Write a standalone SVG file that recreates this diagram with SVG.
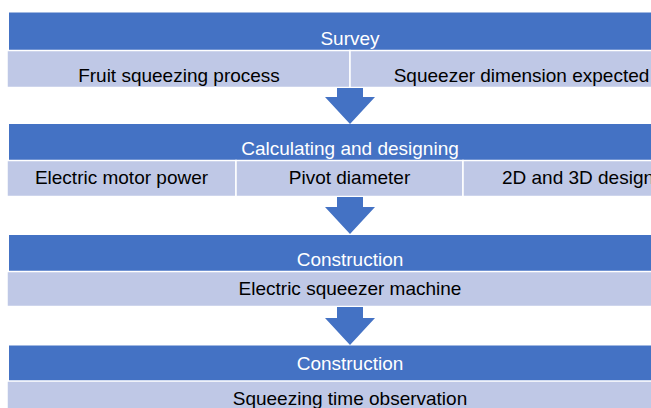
<svg xmlns="http://www.w3.org/2000/svg" width="651" height="408" viewBox="0 0 651 408">
<style>
.hdr{fill:#4472C4}
.cell{fill:#BFC8E6;stroke:#FFFFFF;stroke-width:1.5}
.ht{font-family:"Liberation Sans",Arial,sans-serif;font-size:19px;fill:#FFFFFF;text-anchor:middle}
.ct{font-family:"Liberation Sans",Arial,sans-serif;font-size:19px;fill:#000000;text-anchor:middle}
.arr{fill:#4472C4}
</style>
<rect width="651" height="408" fill="#FFFFFF"/>
<g id="survey">
<rect class="hdr" x="9" y="12.5" width="682" height="38"/>
<text class="ht" x="350" y="45">Survey</text>
<rect class="cell" x="7" y="50.5" width="343" height="37"/>
<rect class="cell" x="350" y="50.5" width="343" height="37"/>
<text class="ct" x="179" y="81.5">Fruit squeezing process</text>
<text class="ct" x="521.5" y="81.5">Squeezer dimension expected</text>
</g>
<g id="calculating">
<rect class="hdr" x="9" y="124" width="682" height="37"/>
<text class="ht" x="350" y="154.5">Calculating and designing</text>
<rect class="cell" x="7" y="160.5" width="229" height="36"/>
<rect class="cell" x="236" y="160.5" width="227" height="36"/>
<rect class="cell" x="463" y="160.5" width="230" height="36"/>
<text class="ct" x="121.5" y="183.5">Electric motor power</text>
<text class="ct" x="349.5" y="183.5">Pivot diameter</text>
<text class="ct" x="578" y="183.5">2D and 3D design</text>
</g>
<g id="construction1">
<rect class="hdr" x="9" y="235" width="682" height="37"/>
<text class="ht" x="350" y="265.5">Construction</text>
<rect class="cell" x="7" y="271.5" width="686" height="35"/>
<text class="ct" x="350" y="294.5">Electric squeezer machine</text>
</g>
<g id="construction2">
<rect class="hdr" x="9" y="345.5" width="682" height="36"/>
<text class="ht" x="350" y="370">Construction</text>
<rect class="cell" x="7" y="381" width="686" height="40"/>
<text class="ct" x="350" y="405">Squeezing time observation</text>
</g>
<g id="connectors">
<polygon class="arr" points="337,88 363,88 363,97 375,97 350,124 325,97 337,97"/>
<polygon class="arr" points="337,197 363,197 363,207 375,207 350,234 325,207 337,207"/>
<polygon class="arr" points="337,307 363,307 363,318 375,318 350,345 325,318 337,318"/>
</g>
</svg>
